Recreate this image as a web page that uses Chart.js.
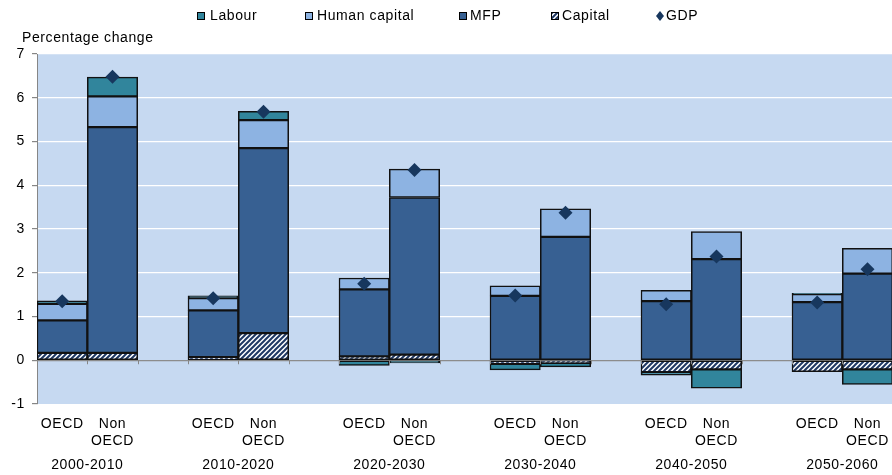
<!DOCTYPE html>
<html>
<head>
<meta charset="utf-8">
<script src="https://cdn.jsdelivr.net/npm/chart.js@4.4.1/dist/chart.umd.min.js"></script>
<style>
html, body { margin: 0; padding: 0; background: #fff; overflow: hidden; }
#wrap { position: relative; width: 950px; height: 475px; }
</style>
</head>
<body>
<div id="wrap"><canvas id="growth-chart"></canvas></div>
<script>
// one value per bar: OECD, Non OECD for each period
const periods = ["2000-2010", "2010-2020", "2020-2030", "2030-2040", "2040-2050", "2050-2060"];
const regions = [["OECD"], ["Non", "OECD"]];
const capital = [0.17, 0.17, 0.07, 0.62, 0.09, 0.13, -0.08, -0.06, -0.27, -0.21, -0.26, -0.21];
const mfp = [0.74, 5.16, 1.07, 4.23, 1.53, 3.59, 1.47, 2.82, 1.35, 2.31, 1.33, 1.98];
const humanCapital = [0.38, 0.70, 0.28, 0.64, 0.26, 0.65, 0.23, 0.64, 0.25, 0.63, 0.18, 0.58];
const labour = [0.07, 0.44, 0.05, 0.20, -0.12, -0.06, -0.14, -0.09, -0.07, -0.43, 0.02, -0.34];
const gdp = [1.35, 6.48, 1.42, 5.68, 1.75, 4.35, 1.48, 3.37, 1.28, 2.37, 1.32, 2.08];

const FONT = '"Liberation Sans", Arial, sans-serif';
const C_LABOUR = '#31859C';
const C_HUMAN = '#8DB3E2';
const C_MFP = '#376092';
const C_GDP = '#17375E';
const C_HATCH = '#1F3864';

// labels and data with an empty slot after each period pair
const labels = [];
periods.forEach(() => { labels.push(regions[0], regions[1], ""); });
function withGaps(arr) {
    const out = [];
    for (let i = 0; i < arr.length; i += 2) {
        out.push(arr[i], arr[i + 1], null);
    }
    return out;
}

function hatchPattern() {
    const size = 5;
    const c = document.createElement('canvas');
    c.width = size; c.height = size;
    const g = c.getContext('2d');
    g.fillStyle = '#fff';
    g.fillRect(0, 0, size, size);
    g.strokeStyle = C_HATCH;
    g.lineWidth = 2;
    g.beginPath();
    g.moveTo(-1, size + 1); g.lineTo(size + 1, -1);
    g.moveTo(-1, 1); g.lineTo(1, -1);
    g.moveTo(size - 1, size + 1); g.lineTo(size + 1, size - 1);
    g.stroke();
    return document.getElementById('growth-chart').getContext('2d').createPattern(c, 'repeat');
}
const hatch = hatchPattern();

const decor = {
    id: 'decor',
    beforeDraw(chart) {
        const { ctx, chartArea: a } = chart;
        // Excel-like wider text
        ctx.letterSpacing = '0.6px';
        ctx.save();
        ctx.fillStyle = '#C6D9F1';
        ctx.fillRect(a.left, a.top, a.right - a.left, a.bottom - a.top);
        ctx.restore();
    },
    afterDraw(chart) {
        const { ctx, chartArea: a } = chart;
        const xs = chart.scales.x, ys = chart.scales.y;
        ctx.save();

        // small tick marks on the zero line between categories
        const y0 = ys.getPixelForValue(0);
        const slot = (a.right - a.left) / labels.length;
        ctx.strokeStyle = '#868686';
        ctx.lineWidth = 1;
        ctx.beginPath();
        for (let i = 1; i < labels.length; i++) {
            const x = Math.round(a.left + i * slot) + 0.5;
            ctx.moveTo(x, y0); ctx.lineTo(x, y0 + 4);
        }
        ctx.stroke();

        ctx.fillStyle = '#000';
        ctx.font = '14px ' + FONT;
        ctx.textBaseline = 'middle';

        // period labels under each pair
        ctx.textAlign = 'center';
        periods.forEach((p, i) => {
            const x = (xs.getPixelForValue(3 * i) + xs.getPixelForValue(3 * i + 1)) / 2;
            ctx.fillText(p, x, 465);
        });

        // axis title
        ctx.textAlign = 'left';
        ctx.fillText('Percentage change', 22, 38);

        // legend
        const items = [
            { text: 'Labour', box: 197, tx: 210, fill: C_LABOUR },
            { text: 'Human capital', box: 305, tx: 317, fill: C_HUMAN },
            { text: 'MFP', box: 459, tx: 470, fill: C_MFP },
            { text: 'Capital', box: 551, tx: 562, fill: hatch },
            { text: 'GDP', box: 660, tx: 666, fill: null }
        ];
        items.forEach(it => {
            if (it.fill) {
                ctx.fillStyle = it.fill;
                ctx.fillRect(it.box, 12, 8, 8);
                ctx.strokeStyle = '#000';
                ctx.lineWidth = 1;
                ctx.strokeRect(it.box + 0.5, 12.5, 7, 7);
            } else {
                ctx.fillStyle = C_GDP;
                ctx.beginPath();
                ctx.moveTo(it.box, 11); ctx.lineTo(it.box + 4, 16);
                ctx.lineTo(it.box, 21); ctx.lineTo(it.box - 4, 16);
                ctx.closePath(); ctx.fill();
            }
            ctx.fillStyle = '#000';
            ctx.fillText(it.text, it.tx, 16);
        });
        ctx.restore();
    }
};

function barSet(label, data, color) {
    return {
        type: 'bar',
        label: label,
        data: withGaps(data),
        backgroundColor: color,
        borderColor: '#111',
        borderWidth: 1.5,
        borderSkipped: false,
        stack: 'growth',
        order: 1,
        barPercentage: 1,
        categoryPercentage: 1
    };
}

Chart.defaults.font.family = FONT;
Chart.defaults.font.size = 14;
Chart.defaults.color = '#000';

new Chart(document.getElementById('growth-chart'), {
    data: {
        labels: labels,
        datasets: [
            barSet('Capital', capital, hatch),
            barSet('MFP', mfp, C_MFP),
            barSet('Human capital', humanCapital, C_HUMAN),
            barSet('Labour', labour, C_LABOUR),
            {
                type: 'line',
                label: 'GDP',
                data: withGaps(gdp),
                showLine: false,
                pointStyle: 'rectRot',
                pointRadius: 7,
                pointBackgroundColor: C_GDP,
                pointBorderColor: C_GDP,
                pointBorderWidth: 0,
                stack: 'gdp',
                order: 0
            }
        ]
    },
    options: {
        responsive: true,
        maintainAspectRatio: false,
        devicePixelRatio: 1,
        animation: false,
        layout: { padding: { top: 54, right: 4, left: 0, bottom: 0 } },
        plugins: {
            legend: { display: false },
            tooltip: { enabled: false }
        },
        scales: {
            x: {
                stacked: true,
                offset: true,
                grid: { display: false, drawTicks: false },
                border: { display: false },
                ticks: { autoSkip: false, maxRotation: 0, padding: 12 },
                afterFit(scale) { scale.height = 71; }
            },
            y: {
                stacked: true,
                min: -1,
                max: 7,
                ticks: { stepSize: 1, padding: 7 },
                grid: {
                    color(ctx) {
                        const v = ctx.tick.value;
                        if (v === 0) return '#8C8C8C';
                        if (v === -1) return 'rgba(0,0,0,0)';
                        return '#FFFFFF';
                    },
                    lineWidth: 1.2,
                    tickLength: 5,
                    tickColor: '#868686'
                },
                border: { display: true, color: '#868686', width: 1 },
                afterFit(scale) { scale.width = 37; }
            }
        }
    },
    plugins: [decor]
});
</script>
</body>
</html>
